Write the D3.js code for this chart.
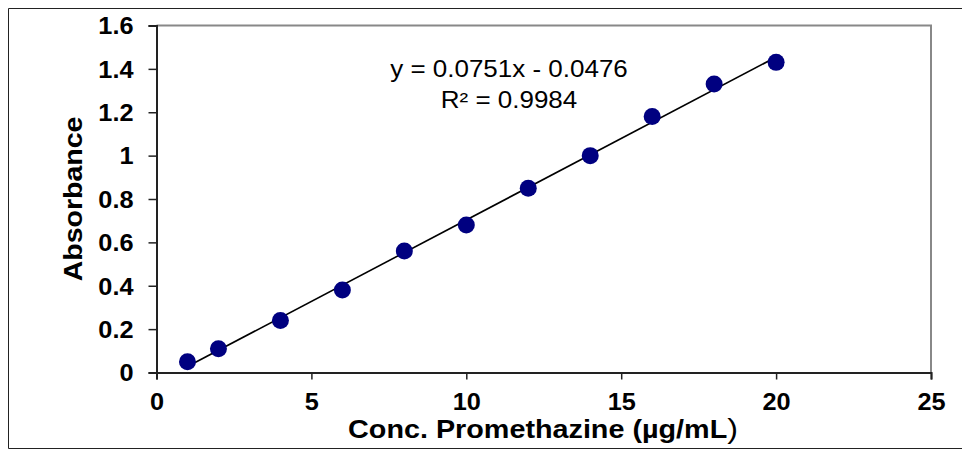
<!DOCTYPE html>
<html>
<head>
<meta charset="utf-8">
<script src="https://cdn.jsdelivr.net/npm/d3@7"></script>
<style>
  html, body { margin: 0; padding: 0; background: #fff; }
  svg text { font-family: Arial, "Liberation Sans", sans-serif; fill: #000; }
</style>
</head>
<body>
<svg id="chart" width="962" height="450"></svg>
<script>
// ---- data ----
const conc = [1, 2, 4, 6, 8, 10, 12, 14, 16, 18, 20];
const absorbance = [0.05, 0.11, 0.24, 0.38, 0.56, 0.68, 0.85, 1.0, 1.18, 1.33, 1.43];
const xTicks = [0, 5, 10, 15, 20, 25];
const yTicks = [0, 0.2, 0.4, 0.6, 0.8, 1, 1.2, 1.4, 1.6];
const slope = 0.0751, intercept = -0.0476;
const eqLabel = 'y = 0.0751x - 0.0476';
const r2Label = 'R² = 0.9984';

(function () {
  const svg = d3.select('#chart');
  const M = { left: 156.5, right: 931, top: 25.5, bottom: 372.5 };

  // outer chart frame (right side runs off the picture)
  svg.append('path')
    .attr('d', `M970,8.5 H8.5 V448.5 H970`)
    .attr('fill', 'none').attr('stroke', '#222').attr('stroke-width', 1);

  const x = d3.scaleLinear().domain([0, 25]).range([M.left, M.right]);
  const y = d3.scaleLinear().domain([0, 1.6]).range([M.bottom, M.top]);

  // plot area border (top + right in grey)
  svg.append('path')
    .attr('d', `M${M.left},${M.top} H${M.right} V${M.bottom}`)
    .attr('fill', 'none').attr('stroke', '#888').attr('stroke-width', 2);

  const fmtY = d => d === 0 ? '0' : (d === 1 ? '1' : d3.format('.1f')(d));

  const gx = svg.append('g')
    .attr('transform', `translate(0,${M.bottom})`)
    .call(d3.axisBottom(x).tickValues(xTicks).tickSize(7).tickPadding(14).tickFormat(d3.format('d')));
  const gy = svg.append('g')
    .attr('transform', `translate(${M.left},0)`)
    .call(d3.axisLeft(y).tickValues(yTicks).tickSize(8).tickPadding(8).tickFormat(fmtY));

  [gx, gy].forEach(g => {
    g.select('.domain').attr('stroke', '#222').attr('stroke-width', 2);
    g.selectAll('.tick line').attr('stroke', '#222').attr('stroke-width', 1.5);
    g.selectAll('.tick text')
      .style('font-family', 'Arial, "Liberation Sans", sans-serif')
      .style('font-size', '23px').style('font-weight', 'bold').attr('fill', '#000')
      .attr('transform', 'scale(1.1,1)');
  });
  gy.selectAll('.tick text').attr('dy', '0.36em').attr('x', -23 / 1.1);

  // trendline
  svg.append('line')
    .attr('x1', x(conc[0])).attr('y1', y(slope * conc[0] + intercept))
    .attr('x2', x(conc[conc.length - 1])).attr('y2', y(slope * conc[conc.length - 1] + intercept))
    .attr('stroke', '#000').attr('stroke-width', 1.6);

  // data points
  svg.selectAll('.pt').data(conc).enter()
    .append('circle').attr('class', 'pt')
    .attr('cx', d => x(d))
    .attr('cy', (d, i) => y(absorbance[i]))
    .attr('r', 8.5)
    .attr('fill', '#000080');

  // equation (text in the reference is a little wider than plain Arial)
  [[eqLabel, 77], [r2Label, 108]].forEach(([t, yy]) => {
    svg.append('text')
      .attr('transform', `translate(509,${yy}) scale(1.13,1)`)
      .attr('text-anchor', 'middle')
      .style('font-size', '23px').text(t);
  });

  // axis titles
  const xt = svg.append('text')
    .attr('transform', 'translate(543,438) scale(1.15,1)')
    .attr('text-anchor', 'middle')
    .style('font-size', '25px').style('font-weight', 'bold');
  xt.append('tspan').text('Conc. Promethazine (µg/mL');
  xt.append('tspan').style('font-weight', 'normal').style('font-size', '28px').text(')');

  svg.append('text')
    .attr('transform', 'translate(82,199) rotate(-90) scale(1.14,1)')
    .attr('text-anchor', 'middle')
    .style('font-size', '25px').style('font-weight', 'bold')
    .text('Absorbance');
})();
</script>
</body>
</html>
